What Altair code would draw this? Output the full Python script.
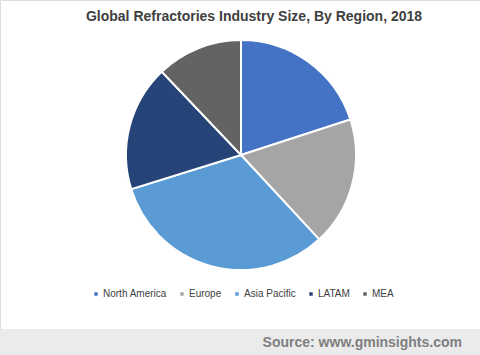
import altair as alt
import pandas as pd

regions = ["North America", "Europe", "Asia Pacific", "LATAM", "MEA"]
shares = [20.0, 18.1, 32.1, 17.7, 12.1]
colors = ["#4472C4", "#A5A5A5", "#5B9BD5", "#264478", "#636363"]
order = [0, 1, 2, 3, 4]

df = pd.DataFrame({"Region": regions, "Share": shares, "order": order})

W, H = 480, 355
FONT = "Liberation Sans"

band = alt.Chart(pd.DataFrame({"a": [0]})).mark_rect(color="#EBEBEB").encode(
    x=alt.value(0), x2=alt.value(W), y=alt.value(329), y2=alt.value(H)
)

pie = alt.Chart(df).mark_arc(stroke="white", strokeWidth=2, radius=115).encode(
    theta=alt.Theta("Share:Q", stack=True),
    order=alt.Order("order:Q"),
    color=alt.Color(
        "Region:N",
        sort=regions,
        scale=alt.Scale(domain=regions, range=colors),
        legend=alt.Legend(
            title=None,
            orient="none",
            direction="horizontal",
            legendX=91,
            legendY=289,
            symbolType="square",
            symbolSize=12,
            symbolStrokeWidth=0,
            labelFont=FONT,
            labelFontSize=10,
            labelColor="#404040",
            labelOffset=2,
            columnPadding=10,
        ),
    ),
    x=alt.value(241),
    y=alt.value(155),
)

title = alt.Chart(pd.DataFrame({"t": ["Global Refractories Industry Size, By Region, 2018"]})).mark_text(
    font=FONT, fontSize=14, fontWeight="bold", color="#404040", align="center", baseline="middle"
).encode(text="t:N", x=alt.value(254), y=alt.value(17))

source = alt.Chart(pd.DataFrame({"t": ["Source: www.gminsights.com"]})).mark_text(
    font=FONT, fontSize=14, fontWeight="bold", color="#7F7F7F", align="right", baseline="middle"
).encode(text="t:N", x=alt.value(462), y=alt.value(343))

chart = alt.layer(band, pie, title, source).properties(
    width=W, height=H, autosize=alt.AutoSizeParams(type="none"), padding=0
).configure_view(strokeWidth=0).configure(background="white")

chart.save("out.html", embed_options={"renderer": "svg", "actions": False})
